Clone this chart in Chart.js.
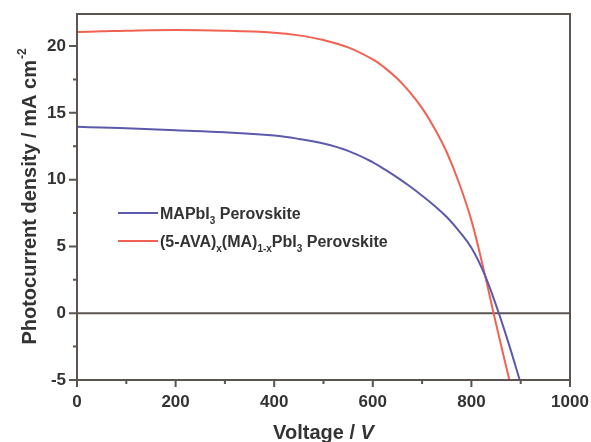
<!DOCTYPE html>
<html>
<head>
<meta charset="utf-8">
<script src="https://cdn.jsdelivr.net/npm/chart.js@4.4.1/dist/chart.umd.min.js"></script>
<style>
  html, body { margin: 0; padding: 0; background: #fff; }
</style>
</head>
<body>
<canvas id="jvChart" width="591" height="442"></canvas>
<script>
// J-V curves
const mapbiVoltage = [0, 50, 100, 200, 300, 400, 450, 500, 550, 600, 625, 650, 675, 700, 725, 750, 775, 800, 825, 850, 875, 898];
const mapbiCurrent = [13.95, 13.9, 13.85, 13.7, 13.55, 13.3, 13.05, 12.7, 12.15, 11.3, 10.75, 10.15, 9.5, 8.8, 8.05, 7.2, 6.15, 4.9, 3.05, 0.6, -2.2, -5];

const avaVoltage = [0, 50, 100, 200, 300, 400, 450, 500, 550, 600, 625, 650, 675, 700, 725, 750, 775, 800, 825, 850, 877];
const avaCurrent = [21.05, 21.1, 21.15, 21.2, 21.15, 21.0, 20.8, 20.45, 19.9, 19.0, 18.35, 17.55, 16.55, 15.35, 13.85, 12.05, 9.75, 6.95, 3.25, -0.8, -5];

const xTicks = [0, 200, 400, 600, 800, 1000];
const yTicks = [-5, 0, 5, 10, 15, 20];

// legend pieces: [text, isSubscript]
const mapbiLabel = [["MAPbI", false], ["3", true], [" Perovskite", false]];
const avaLabel = [["(5-AVA)", false], ["x", true], ["(MA)", false], ["1-x", true], ["PbI", false], ["3", true], [" Perovskite", false]];

const BLUE = "rgb(92, 90, 172)";
const RED = "rgb(242, 98, 82)";
const FRAME = "#5b5450";
const TEXT = "#333";
const FONT = "'Liberation Sans', Arial, sans-serif";

const toPoints = (xs, ys) => xs.map((x, i) => ({ x: x, y: ys[i] }));

function drawRich(ctx, parts, x, y, size) {
    parts.forEach(([txt, sub]) => {
        ctx.font = `bold ${sub ? Math.round(size * 0.62) : size}px ${FONT}`;
        ctx.fillText(txt, x, sub ? y + size * 0.3 : y);
        x += ctx.measureText(txt).width;
    });
}

const decorPlugin = {
    id: "decor",
    beforeDatasetsDraw(chart) {
        const { ctx, chartArea: a, scales: { y } } = chart;
        const y0 = y.getPixelForValue(0);
        ctx.save();
        ctx.strokeStyle = FRAME;
        ctx.lineWidth = 2;
        ctx.beginPath();
        ctx.moveTo(a.left, y0);
        ctx.lineTo(a.right, y0);
        ctx.stroke();
        ctx.restore();
    },
    afterDraw(chart) {
        const { ctx, chartArea: a, scales: { x, y } } = chart;
        ctx.save();
        ctx.strokeStyle = FRAME;
        ctx.lineWidth = 2;
        ctx.strokeRect(a.left, a.top, a.right - a.left, a.bottom - a.top);

        // tick marks, major and minor
        ctx.beginPath();
        for (let v = -5; v <= 20; v += 2.5) {
            const py = y.getPixelForValue(v);
            const len = v % 5 === 0 ? 8 : 4;
            ctx.moveTo(a.left - len, py);
            ctx.lineTo(a.left, py);
        }
        for (let v = 0; v <= 1000; v += 100) {
            const px = x.getPixelForValue(v);
            const len = v % 200 === 0 ? 7 : 4;
            ctx.moveTo(px, a.bottom);
            ctx.lineTo(px, a.bottom + len);
        }
        ctx.stroke();

        // axis titles
        ctx.fillStyle = TEXT;
        ctx.textBaseline = "alphabetic";
        ctx.font = `bold 20px ${FONT}`;
        const t1 = "Voltage / ";
        const w1 = ctx.measureText(t1).width;
        ctx.font = `italic bold 20px ${FONT}`;
        const w2 = ctx.measureText("V").width;
        const cx = (a.left + a.right) / 2;
        ctx.font = `bold 20px ${FONT}`;
        ctx.fillText(t1, cx - (w1 + w2) / 2, 439);
        ctx.font = `italic bold 20px ${FONT}`;
        ctx.fillText("V", cx - (w1 + w2) / 2 + w1, 439);

        ctx.save();
        ctx.translate(36, (a.top + a.bottom) / 2);
        ctx.rotate(-Math.PI / 2);
        ctx.font = `bold 20px ${FONT}`;
        const yt = "Photocurrent density / mA cm";
        const wy = ctx.measureText(yt).width;
        ctx.font = `bold 12px ${FONT}`;
        const ws = ctx.measureText("-2").width;
        ctx.font = `bold 20px ${FONT}`;
        ctx.fillText(yt, -(wy + ws) / 2, 0);
        ctx.font = `bold 12px ${FONT}`;
        ctx.fillText("-2", -(wy + ws) / 2 + wy + 1, -10);
        ctx.restore();

        // legend
        const rows = [[mapbiLabel, BLUE, 213], [avaLabel, RED, 241]];
        rows.forEach(([parts, color, ly]) => {
            ctx.strokeStyle = color;
            ctx.lineWidth = 2;
            ctx.beginPath();
            ctx.moveTo(118, ly);
            ctx.lineTo(158, ly);
            ctx.stroke();
            ctx.fillStyle = TEXT;
            drawRich(ctx, parts, 160, ly + 6, 16);
        });
        ctx.restore();
    }
};

new Chart(document.getElementById("jvChart"), {
    type: "scatter",
    data: {
        datasets: [
            {
                label: "MAPbI3 Perovskite",
                data: toPoints(mapbiVoltage, mapbiCurrent),
                showLine: true,
                borderColor: BLUE,
                borderWidth: 2,
                pointRadius: 0,
                tension: 0.4
            },
            {
                label: "(5-AVA)x(MA)1-xPbI3 Perovskite",
                data: toPoints(avaVoltage, avaCurrent),
                showLine: true,
                borderColor: RED,
                borderWidth: 2,
                pointRadius: 0,
                tension: 0.4
            }
        ]
    },
    options: {
        responsive: false,
        animation: false,
        layout: { padding: { top: 14, right: 21, left: 0, bottom: 0 } },
        plugins: {
            legend: { display: false },
            tooltip: { enabled: false }
        },
        scales: {
            x: {
                type: "linear",
                min: 0,
                max: 1000,
                afterBuildTicks: s => { s.ticks = xTicks.map(v => ({ value: v })); },
                afterFit: s => { s.height = 62; s.paddingLeft = 0; s.paddingRight = 0; },
                grid: { display: false, drawTicks: false },
                border: { display: false },
                ticks: {
                    padding: 12,
                    color: TEXT,
                    font: { family: FONT, size: 17, weight: "bold" },
                    maxRotation: 0,
                    callback: v => String(v)
                }
            },
            y: {
                min: -5,
                max: 22.4,
                afterBuildTicks: s => { s.ticks = yTicks.map(v => ({ value: v })); },
                afterFit: s => { s.width = 77; s.paddingTop = 0; s.paddingBottom = 0; },
                grid: { display: false, drawTicks: false },
                border: { display: false },
                ticks: {
                    padding: 11,
                    color: TEXT,
                    font: { family: FONT, size: 17, weight: "bold" },
                    callback: v => String(v)
                }
            }
        }
    },
    plugins: [decorPlugin]
});
</script>
</body>
</html>
